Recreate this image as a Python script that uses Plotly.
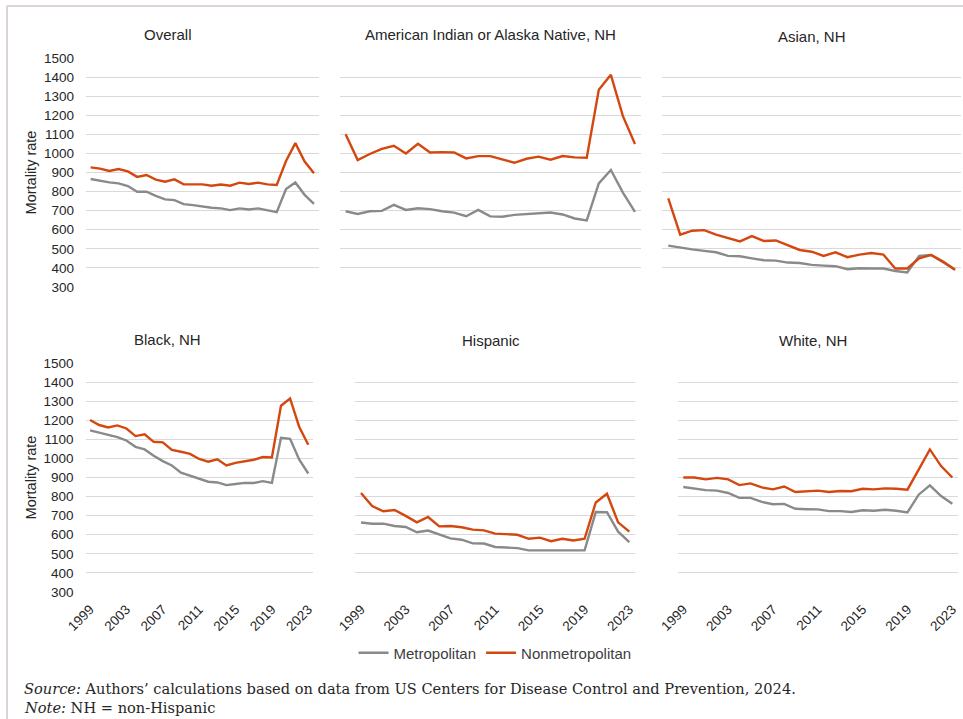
import plotly.graph_objects as go

W, H = 963, 719

years = list(range(1999, 2024))
tick_years = [1999, 2003, 2007, 2011, 2015, 2019, 2023]
y_ticks = list(range(300, 1501, 100))

panel_titles = ["Overall", "American Indian or Alaska Native, NH", "Asian, NH",
                "Black, NH", "Hispanic", "White, NH"]

overall_metro = [866, 857, 848, 843, 829, 799, 799, 778, 759, 755, 734, 729, 722, 715, 712, 703, 712, 706, 712, 703, 692, 813, 848, 783, 736]
overall_nonmetro = [927, 920, 908, 918, 906, 877, 887, 863, 852, 864, 838, 838, 838, 831, 837, 831, 847, 840, 847, 838, 835, 960, 1054, 957, 896]

aian_metro = [697, 683, 697, 699, 730, 704, 713, 708, 697, 690, 671, 704, 670, 668, 678, 682, 689, 690, 680, 659, 649, 843, 913, 795, 694]
aian_nonmetro = [1101, 965, 997, 1024, 1040, 1000, 1050, 1005, 1007, 1005, 974, 986, 986, 967, 951, 972, 983, 967, 986, 979, 977, 1334, 1412, 1195, 1049]

asian_metro = [517, 506, 497, 489, 482, 463, 461, 450, 440, 438, 428, 426, 416, 412, 409, 393, 398, 397, 397, 384, 376, 463, 468, 430, 391]
asian_nonmetro = [765, 574, 595, 598, 574, 555, 539, 567, 541, 544, 520, 494, 485, 463, 482, 456, 470, 478, 470, 397, 397, 450, 468, 433, 391]

black_metro = [1147, 1136, 1124, 1112, 1094, 1061, 1047, 1014, 986, 963, 925, 909, 893, 878, 874, 860, 866, 872, 871, 881, 872, 1108, 1103, 995, 921]
black_nonmetro = [1201, 1175, 1162, 1173, 1157, 1117, 1126, 1087, 1084, 1045, 1035, 1024, 997, 983, 995, 963, 977, 986, 993, 1007, 1005, 1276, 1314, 1166, 1072]

hisp_metro = [664, 658, 658, 646, 641, 613, 622, 600, 581, 574, 555, 554, 536, 533, 530, 518, 519, 519, 518, 518, 518, 719, 718, 616, 561]
hisp_nonmetro = [819, 750, 723, 730, 699, 665, 693, 644, 646, 639, 627, 623, 606, 604, 600, 579, 585, 566, 579, 570, 579, 769, 815, 665, 616]

white_metro = [850, 843, 834, 831, 819, 793, 793, 772, 760, 762, 736, 734, 733, 724, 724, 719, 728, 726, 731, 726, 717, 810, 859, 803, 762]
white_nonmetro = [900, 900, 890, 898, 890, 860, 869, 848, 838, 853, 824, 828, 831, 824, 829, 828, 841, 838, 843, 841, 836, 941, 1047, 960, 900]

metro_series = [overall_metro, aian_metro, asian_metro, black_metro, hisp_metro, white_metro]
nonmetro_series = [overall_nonmetro, aian_nonmetro, asian_nonmetro, black_nonmetro, hisp_nonmetro, white_nonmetro]

METRO_COLOR = "#8a8a8a"
NONMETRO_COLOR = "#d4480f"
GRID = "#d9d9d9"
TXT = "#262626"

# panel plot areas in pixels: (x0, x1, y_top, y_bottom)
panels_px = [
    (86, 318.6, 58, 287),
    (339.6, 641, 58, 287),
    (662.3, 961, 58, 287),
    (85.5, 312.8, 363, 592),
    (355.4, 634.9, 363, 592),
    (677.7, 957.9, 363, 592),
]
# title centres in pixels
title_px = [(168, 34), (490, 34), (812, 36), (167, 339), (491, 340), (813, 340)]

def fx(px):
    return px / W

def fy(py):
    return 1 - py / H

fig = go.Figure()
layout = dict(
    template="none",
    width=W, height=H,
    margin=dict(l=0, r=0, t=0, b=0, pad=0),
    paper_bgcolor="white", plot_bgcolor="white",
    font=dict(family="Liberation Sans, Arial, sans-serif", color=TXT, size=13),
    showlegend=True,
    hovermode="closest",
)

annotations = []
for i in range(6):
    n = "" if i == 0 else str(i + 1)
    xa, ya = "x" + n, "y" + n
    x0, x1, yt, yb = panels_px[i]
    fig.add_trace(go.Scatter(x=years, y=metro_series[i], mode="lines", name="Metropolitan",
                             line=dict(color=METRO_COLOR, width=2.4), xaxis=xa, yaxis=ya,
                             legendgroup="m", showlegend=(i == 0)))
    fig.add_trace(go.Scatter(x=years, y=nonmetro_series[i], mode="lines", name="Nonmetropolitan",
                             line=dict(color=NONMETRO_COLOR, width=2.4), xaxis=xa, yaxis=ya,
                             legendgroup="n", showlegend=(i == 0)))
    bottom = i >= 3
    left = i % 3 == 0
    layout["xaxis" + n] = dict(
        domain=[fx(x0), fx(x1)], anchor=ya, range=[1998.5, 2023.5],
        tickvals=tick_years, ticktext=[str(t) for t in tick_years],
        showticklabels=bottom, tickangle=-45, showgrid=False, zeroline=False,
        showline=False, ticks="", ticklabelstandoff=6, automargin=False,
        tickfont=dict(size=13.5, color=TXT),
    )
    ydict = dict(
        domain=[fy(yb), fy(yt)], anchor=xa, range=[300, 1500],
        tickvals=y_ticks, showticklabels=left, showgrid=True, gridcolor=GRID,
        gridwidth=1, zeroline=False, showline=False, ticks="", automargin=False,
        ticklabelstandoff=11, tickfont=dict(size=13.5, color=TXT),
    )
    if left:
        ydict["title"] = dict(text="Mortality rate", font=dict(size=14.5, color=TXT), standoff=3)
    layout["yaxis" + n] = ydict
    tx, ty = title_px[i]
    annotations.append(dict(text=panel_titles[i], x=fx(tx), y=fy(ty), xref="paper", yref="paper",
                            xanchor="center", yanchor="middle", showarrow=False,
                            font=dict(size=15, color=TXT)))

annotations.append(dict(
    text="<i>Source:</i> Authors\u2019 calculations based on data from US Centers for Disease Control and Prevention, 2024.",
    x=fx(22), y=fy(688), xref="paper", yref="paper", xanchor="left", yanchor="middle",
    showarrow=False, font=dict(family="DejaVu Serif, serif", size=14.6, color=TXT)))
annotations.append(dict(
    text="<i>Note:</i> NH = non-Hispanic",
    x=fx(22), y=fy(707), xref="paper", yref="paper", xanchor="left", yanchor="middle",
    showarrow=False, font=dict(family="DejaVu Serif, serif", size=14.6, color=TXT)))

layout["annotations"] = annotations
layout["legend"] = dict(orientation="h", x=fx(495), xanchor="center", y=fy(653), yanchor="middle",
                        font=dict(size=15, color="#404040"), itemwidth=30, tracegroupgap=0,
                        bgcolor="rgba(0,0,0,0)")
layout["shapes"] = [
    dict(type="line", xref="paper", yref="paper", x0=fx(7), x1=1, y0=fy(6), y1=fy(6),
         line=dict(color="#dcd4d4", width=2)),
    dict(type="line", xref="paper", yref="paper", x0=fx(7), x1=fx(7), y0=fy(6), y1=0,
         line=dict(color="#dcd4d4", width=2)),
]
fig.update_layout(**layout)

fig.write_html("out.html", config={"displayModeBar": False},
               post_script="document.body.style.margin='0';")
